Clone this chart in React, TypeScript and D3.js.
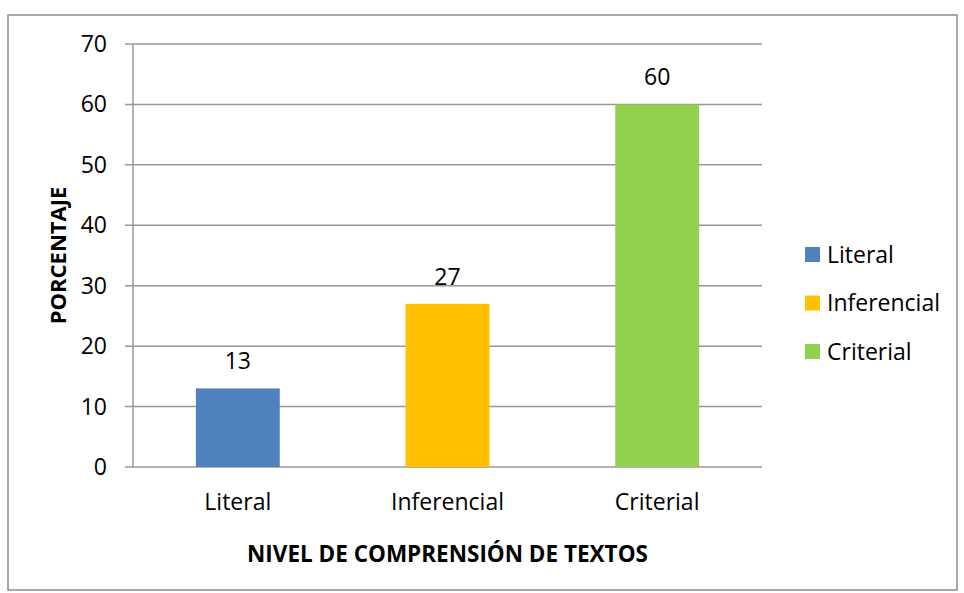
import React, { useRef, useEffect } from "react";
import * as d3 from "d3";

const categories = ["Literal", "Inferencial", "Criterial"];
const values = [13, 27, 60];
const colors = ["#4F81BD", "#FFC000", "#92D050"];
const yTicks = [0, 10, 20, 30, 40, 50, 60, 70];

const W = 964;
const H = 593;
const FONT = "'Open Sans', sans-serif";
const FS = 23;

const App = () => {
  const svgRef = useRef<SVGSVGElement>(null);

  useEffect(() => {
    const svg = d3.select(svgRef.current);
    svg.selectAll("*").remove();

    const left = 133, right = 762, top = 44, bottom = 467;

    // outer frame
    svg.append("rect")
      .attr("x", 8).attr("y", 15)
      .attr("width", 949).attr("height", 575)
      .attr("fill", "white")
      .attr("stroke", "#8c8c8c")
      .attr("stroke-width", 1.5);

    const xScale = d3.scaleBand()
      .domain(categories)
      .range([left, right])
      .paddingInner(0.6)
      .paddingOuter(0.3);
    const yScale = d3.scaleLinear().domain([0, 70]).range([bottom, top]);

    // gridlines + ticks
    svg.append("g")
      .selectAll("line")
      .data(yTicks)
      .enter()
      .append("line")
      .attr("x1", left - 8)
      .attr("x2", right)
      .attr("y1", d => yScale(d))
      .attr("y2", d => yScale(d))
      .attr("stroke", "#989898")
      .attr("stroke-width", 1.5);

    svg.append("line")
      .attr("x1", left).attr("x2", left)
      .attr("y1", top).attr("y2", bottom)
      .attr("stroke", "#989898")
      .attr("stroke-width", 1.5);

    svg.append("g")
      .selectAll("text")
      .data(yTicks)
      .enter()
      .append("text")
      .attr("x", 107)
      .attr("y", d => yScale(d))
      .attr("dy", "0.35em")
      .attr("text-anchor", "end")
      .attr("font-family", FONT)
      .attr("font-size", FS)
      .attr("fill", "#000")
      .text(d => d);

    // bars
    svg.append("g")
      .selectAll("rect")
      .data(values)
      .enter()
      .append("rect")
      .attr("x", (d, i) => xScale(categories[i]) as number)
      .attr("y", d => yScale(d))
      .attr("width", xScale.bandwidth())
      .attr("height", d => bottom - yScale(d))
      .attr("fill", (d, i) => colors[i]);

    // value labels
    svg.append("g")
      .selectAll("text")
      .data(values)
      .enter()
      .append("text")
      .attr("x", (d, i) => (xScale(categories[i]) as number) + xScale.bandwidth() / 2)
      .attr("y", d => yScale(d) - 19)
      .attr("text-anchor", "middle")
      .attr("font-family", FONT)
      .attr("font-size", FS)
      .text(d => d);

    // category labels
    svg.append("g")
      .selectAll("text")
      .data(categories)
      .enter()
      .append("text")
      .attr("x", d => (xScale(d) as number) + xScale.bandwidth() / 2)
      .attr("y", 510)
      .attr("text-anchor", "middle")
      .attr("font-family", FONT)
      .attr("font-size", FS)
      .text(d => d);

    // axis titles
    svg.append("text")
      .attr("x", (left + right) / 2)
      .attr("y", 562)
      .attr("text-anchor", "middle")
      .attr("font-family", FONT)
      .attr("font-size", 22.5)
      .attr("font-weight", "bold")
      .text("NIVEL DE COMPRENSIÓN DE TEXTOS");

    svg.append("text")
      .attr("transform", `translate(66, ${(top + bottom) / 2}) rotate(-90)`)
      .attr("text-anchor", "middle")
      .attr("font-family", FONT)
      .attr("font-size", 22)
      .attr("font-weight", "bold")
      .text("PORCENTAJE");

    // legend
    const legend = svg.append("g")
      .selectAll("g")
      .data(categories)
      .enter()
      .append("g")
      .attr("transform", (d, i) => `translate(805, ${247 + i * 48.5})`);
    legend.append("rect")
      .attr("width", 15).attr("height", 15)
      .attr("fill", (d, i) => colors[i]);
    legend.append("text")
      .attr("x", 22)
      .attr("y", 7.5)
      .attr("dy", "0.35em")
      .attr("font-family", FONT)
      .attr("font-size", FS)
      .text(d => d);
  }, []);

  return (
    <svg ref={svgRef} width={W} height={H} style={{ position: "absolute", left: 0, top: 0 }}></svg>
  );
};

export default App;
